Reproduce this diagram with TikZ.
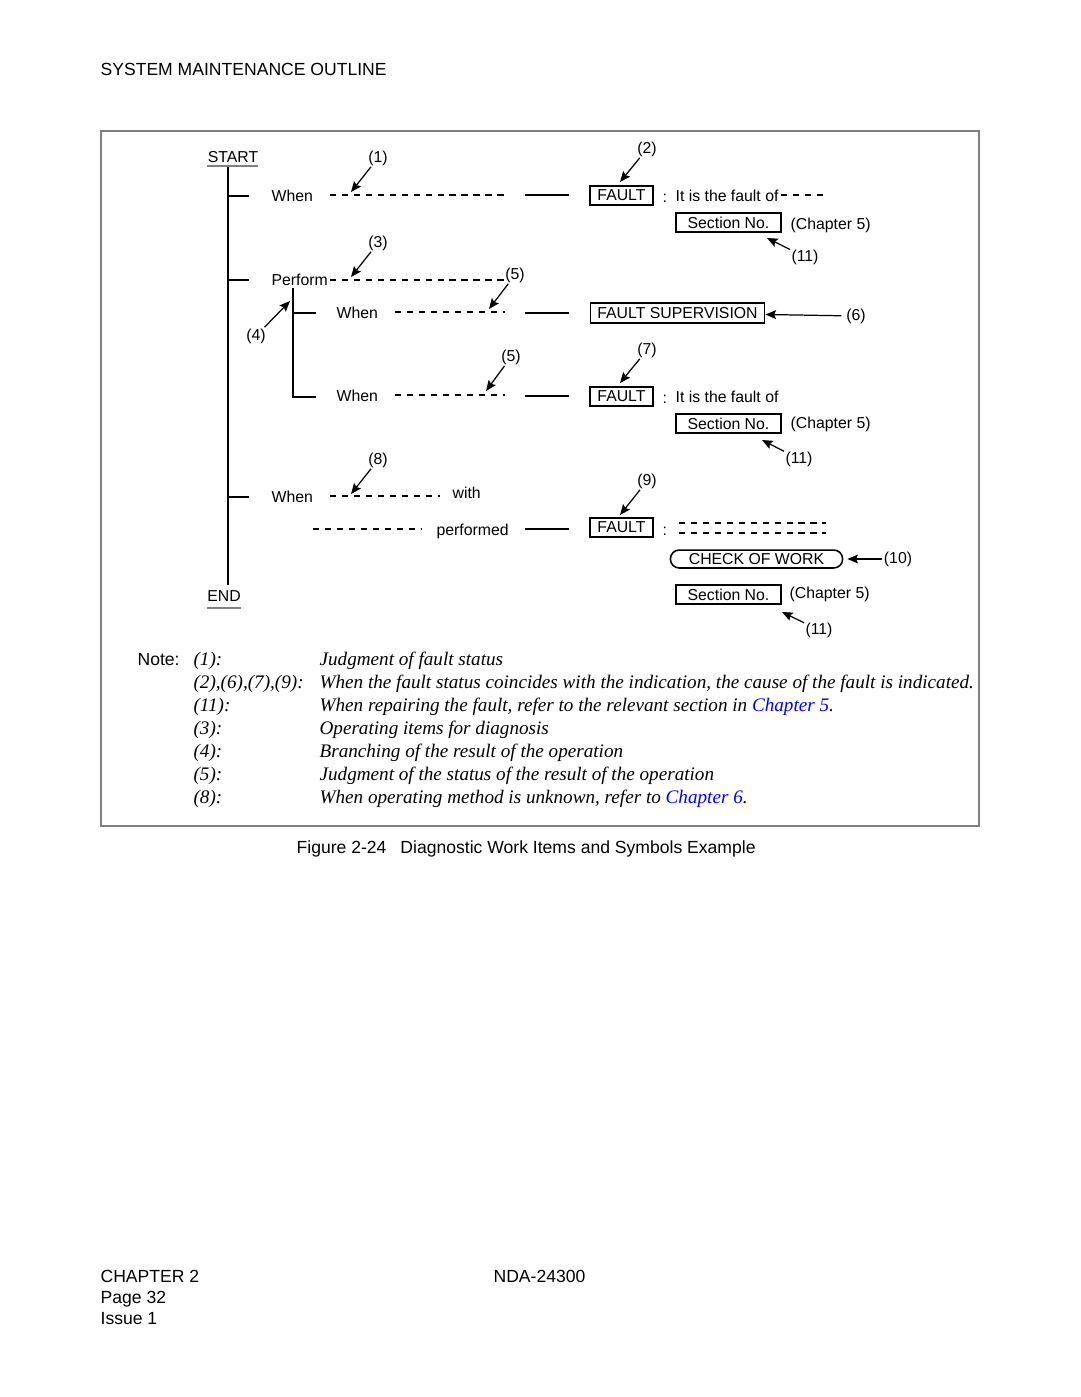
\documentclass[tikz,border=0pt]{standalone}
\usepackage{fontspec}
\setmainfont{Liberation Sans}
\newfontfamily\notefont{Liberation Serif}
\usepackage{xcolor}
\usetikzlibrary{calc, positioning, arrows.meta}

\begin{document}
\begin{tikzpicture}[x=0.02cm, y=-0.02cm, >={Stealth[length=6pt, width=5pt, inset=1pt]}, line width=0.7pt,
	txt/.style={inner sep=0pt, anchor=west, font=\fontsize{9}{10}\selectfont, text height=1.5ex, text depth=0.25ex},
	lab/.style={inner sep=0.5pt, font=\fontsize{9}{10}\selectfont},
	box/.style={draw, inner sep=0pt, minimum height=10.8pt, font=\fontsize{9}{10}\selectfont, line width=0.9pt},
	dsh/.style={dash pattern=on 3.6pt off 3.2pt},
	note/.style={inner sep=0pt, anchor=base west, font=\notefont\itshape\fontsize{10.9}{13}\selectfont},
	pg/.style={inner sep=0pt, anchor=base west, font=\fontsize{10}{12}\selectfont}]
	\useasboundingbox (0,0) rectangle (1080,1397);
	
	% page header, frame, caption, footer
	\node[pg] (head) at (100,75.5) {SYSTEM MAINTENANCE OUTLINE};
	\draw[gray, line width=0.6pt] (101,131) rectangle (979,826);
	\node[pg] (cap) at (296,853) {Figure 2-24\hspace{8pt}Diagnostic Work Items and Symbols Example};
	\node[pg] (chap) at (100,1282) {CHAPTER 2};
	\node[pg] (page) at (100,1303) {Page 32};
	\node[pg] (issue) at (100,1324) {Issue 1};
	\node[pg] (nda) at (493,1282) {NDA-24300};
	
	% main line
	\node[lab] (start) at (233,157) {START};
	\node[lab] (end) at (224,596) {END};
	\draw[gray, line width=0.6pt] (207,166) -- (258,166);
	\draw[gray, line width=0.6pt] (207,608) -- (241,608);
	\coordinate (top) at (228,167);
	\coordinate (bot) at (228,585);
	\draw (top) -- (bot);
	
	% first When
	\coordinate (k1) at (249,196);
	\draw (k1-|top) -- (k1);
	\node[txt] (when1) at (271,196) {When};
	\coordinate (d1a) at (330,195);
	\coordinate (d1b) at (505,195);
	\draw[dsh] (d1a) -- (d1b);
	\coordinate (s1a) at (525,195);
	\coordinate (s1b) at (569,195);
	\draw (s1a) -- (s1b);
	\node[box, minimum width=35.7pt] (fault1) at (621.5,195.5) {FAULT};
	\node[txt] (col1) at (662,197) {:};
	\node[txt] (of1) at (675,196) {It is the fault of};
	\coordinate (e1a) at (781,195);
	\coordinate (e1b) at (826,195);
	\draw[dsh] (e1a) -- (e1b);
	\node[box, minimum width=59.5pt] (sec1) at (728.5,222.5) {Section No.};
	\node[txt] (ch1) at (790,224) {(Chapter 5)};
	
	% Perform
	\coordinate (k2) at (249,280);
	\draw (k2-|top) -- (k2);
	\node[txt] (perf) at (271,280) {Perform};
	\coordinate (d2a) at (330,280);
	\coordinate (d2b) at (505,280);
	\draw[dsh] (d2a) -- (d2b);
	
	% branch
	\coordinate (br) at (293,288);
	\coordinate (bk1) at (316,313);
	\coordinate (bk2) at (316,397);
	\draw (br) |- (bk2);
	\draw (bk1-|br) -- (bk1);
	\node[txt] (when2) at (336,313) {When};
	\coordinate (d3a) at (395,312);
	\coordinate (d3b) at (505,312);
	\draw[dsh] (d3a) -- (d3b);
	\coordinate (s3a) at (525,313);
	\coordinate (s3b) at (569,313);
	\draw (s3a) -- (s3b);
	\node[box, minimum width=99.2pt, minimum height=11.3pt] (fsup) at (677.5,313) {FAULT SUPERVISION};
	
	\node[txt] (when3) at (336,396) {When};
	\coordinate (d4a) at (395,395);
	\coordinate (d4b) at (505,395);
	\draw[dsh] (d4a) -- (d4b);
	\coordinate (s4a) at (525,396);
	\coordinate (s4b) at (569,396);
	\draw (s4a) -- (s4b);
	\node[box, minimum width=35.7pt] (fault2) at (621.5,396.5) {FAULT};
	\node[txt] (col2) at (662,398) {:};
	\node[txt] (of2) at (675,397) {It is the fault of};
	\node[box, minimum width=59.5pt] (sec2) at (728.5,423.5) {Section No.};
	\node[txt] (ch2) at (790,423) {(Chapter 5)};
	
	% last When
	\coordinate (k3) at (249,497);
	\draw (k3-|top) -- (k3);
	\node[txt] (when4) at (271,497) {When};
	\coordinate (d5a) at (330,496);
	\coordinate (d5b) at (440,496);
	\draw[dsh] (d5a) -- (d5b);
	\node[txt] (with) at (452,493) {with};
	\coordinate (d6a) at (313,529);
	\coordinate (d6b) at (422,529);
	\draw[dsh] (d6a) -- (d6b);
	\node[txt] (done) at (436,530) {performed};
	\coordinate (s6a) at (525,529);
	\coordinate (s6b) at (569,529);
	\draw (s6a) -- (s6b);
	\node[box, minimum width=35.7pt] (fault3) at (621.5,527.5) {FAULT};
	\node[txt] (col3) at (662,530) {:};
	\coordinate (e3a) at (679,523);
	\coordinate (e3b) at (826,523);
	\coordinate (e4a) at (679,533);
	\coordinate (e4b) at (826,533);
	\draw[dsh] (e3a) -- (e3b);
	\draw[dsh] (e4a) -- (e4b);
	\node[box, minimum width=98pt, minimum height=10.2pt, rounded corners=5pt] (chk) at (756.5,559) {CHECK OF WORK};
	\node[box, minimum width=59.5pt] (sec3) at (728.5,594.5) {Section No.};
	\node[txt] (ch3) at (789,593) {(Chapter 5)};
	
	% numbered pointers
	\node[lab] (n1) at (378,158) {(1)};
	\coordinate (p1) at (351,192);
	\draw[->] (n1) -- (p1);
	\node[lab] (n2) at (647,149) {(2)};
	\coordinate (p2) at (620,182);
	\draw[->] (n2) -- (p2);
	\node[lab] (n3) at (378,243) {(3)};
	\coordinate (p3) at (351,277);
	\draw[->] (n3) -- (p3);
	\node[lab] (n4) at (256,336) {(4)};
	\coordinate (p4) at (290,301);
	\draw[->] (n4) -- (p4);
	\node[lab] (n5a) at (515,275) {(5)};
	\coordinate (p5a) at (489,309);
	\draw[->] (n5a) -- (p5a);
	\node[lab] (n5b) at (511,357) {(5)};
	\coordinate (p5b) at (486,391);
	\draw[->] (n5b) -- (p5b);
	\node[lab] (n6) at (856,316) {(6)};
	\draw[->, shorten <=2pt] (n6) -- (fsup);
	\node[lab] (n7) at (647,350) {(7)};
	\coordinate (p7) at (620,383);
	\draw[->] (n7) -- (p7);
	\node[lab] (n8) at (378,460) {(8)};
	\coordinate (p8) at (351,494);
	\draw[->] (n8) -- (p8);
	\node[lab] (n9) at (647,481) {(9)};
	\coordinate (p9) at (620,515);
	\draw[->] (n9) -- (p9);
	\node[lab] (n10) at (898,559) {(10)};
	\draw[->] (n10) -- ($(chk.east)+(4,0)$);
	\node[lab] (n11a) at (805,257) {(11)};
	\coordinate (p11a) at (767,238);
	\draw[->] (n11a) -- (p11a);
	\node[lab] (n11b) at (799,459) {(11)};
	\coordinate (p11b) at (762,440);
	\draw[->] (n11b) -- (p11b);
	\node[lab] (n11c) at (819,630) {(11)};
	\coordinate (p11c) at (782,612);
	\draw[->] (n11c) -- (p11c);
	
	% notes
	\node[pg] (nt) at (137,665) {Note:};
	\node[note] (k1n) at (193,665) {(1):};
	\node[note] (v1n) at (319,665) {Judgment of fault status};
	\node[note] (k2n) at (193,688) {(2),(6),(7),(9):};
	\node[note] (v2n) at (319,688) {When the fault status coincides with the indication, the cause of the fault is indicated.};
	\node[note] (k3n) at (193,711) {(11):};
	\node[note] (v3n) at (319,711) {When repairing the fault, refer to the relevant section in \textcolor{blue}{Chapter 5}.};
	\node[note] (k4n) at (193,734) {(3):};
	\node[note] (v4n) at (319,734) {Operating items for diagnosis};
	\node[note] (k5n) at (193,757) {(4):};
	\node[note] (v5n) at (319,757) {Branching of the result of the operation};
	\node[note] (k6n) at (193,780) {(5):};
	\node[note] (v6n) at (319,780) {Judgment of the status of the result of the operation};
	\node[note] (k7n) at (193,803) {(8):};
	\node[note] (v7n) at (319,803) {When operating method is unknown, refer to \textcolor{blue}{Chapter 6}.};
\end{tikzpicture}
\end{document}
